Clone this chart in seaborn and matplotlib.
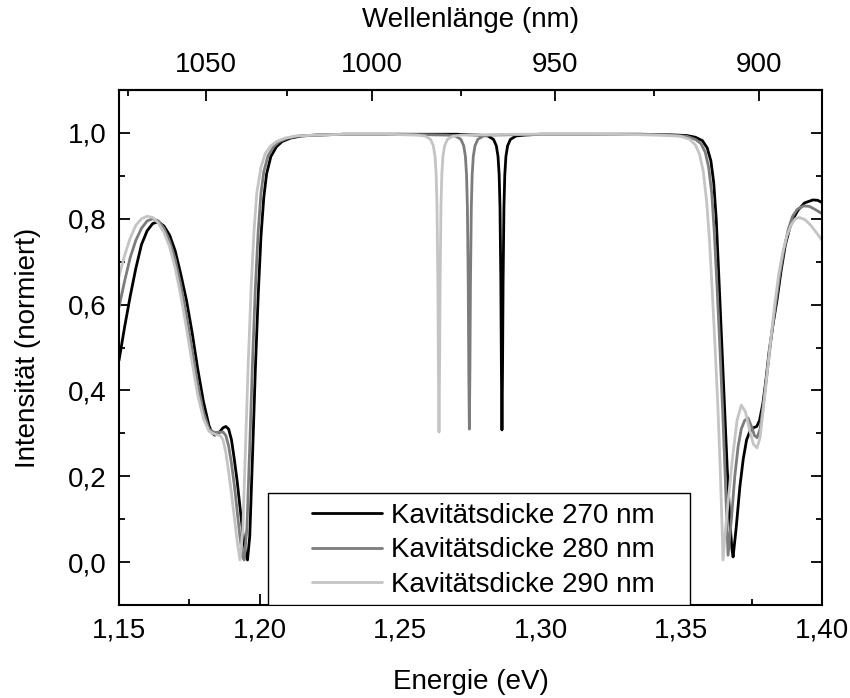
import numpy as np
import pandas as pd
import matplotlib
matplotlib.use("Agg")
import matplotlib.pyplot as plt
import seaborn as sns
from matplotlib.ticker import MultipleLocator, FixedLocator, FuncFormatter
from matplotlib.patches import Rectangle

# ---------------- data ----------------
series_labels = ["Kavitätsdicke 270 nm", "Kavitätsdicke 280 nm", "Kavitätsdicke 290 nm"]
series_colors = ["#000000", "#7c7c7c", "#c4c4c4"]

# 270 nm
e_270_left = [1.150, 1.152, 1.154, 1.156, 1.158, 1.160, 1.162, 1.164, 1.166, 1.168, 1.170, 1.172,
              1.174, 1.176, 1.178, 1.180, 1.182, 1.183, 1.184, 1.185, 1.186, 1.187, 1.188, 1.189,
              1.190, 1.191, 1.192, 1.193, 1.194, 1.195, 1.1957, 1.1965, 1.1975, 1.1985, 1.1995,
              1.2005, 1.2015, 1.2025, 1.204, 1.206, 1.208, 1.211, 1.215, 1.220, 1.230, 1.250, 1.270]
r_270_left = [0.470, 0.548, 0.620, 0.685, 0.740, 0.772, 0.789, 0.793, 0.783, 0.762, 0.725, 0.670,
              0.610, 0.535, 0.450, 0.375, 0.318, 0.302, 0.296, 0.298, 0.305, 0.313, 0.316, 0.310,
              0.285, 0.240, 0.190, 0.130, 0.070, 0.020, 0.005, 0.060, 0.250, 0.450, 0.620,
              0.760, 0.850, 0.905, 0.945, 0.968, 0.980, 0.988, 0.993, 0.995, 0.997, 0.997, 0.997]
e_270_dip = [1.2782, 1.2812, 1.2832, 1.2842, 1.2848, 1.2852, 1.2855, 1.2858, 1.2860, 1.2862,
             1.2864, 1.2866, 1.2869, 1.2872, 1.2876, 1.2882, 1.2892, 1.2912, 1.2942]
r_270_dip = [0.995, 0.993, 0.985, 0.970, 0.945, 0.902, 0.827, 0.652, 0.445, 0.308,
             0.445, 0.652, 0.827, 0.902, 0.945, 0.970, 0.985, 0.993, 0.995]
e_270_right = [1.300, 1.320, 1.335, 1.345, 1.352, 1.355, 1.3575, 1.3592, 1.3605, 1.3615, 1.3624,
               1.3633, 1.3643, 1.3653, 1.3663, 1.3673, 1.3680, 1.3684, 1.3695, 1.3708, 1.3720,
               1.3732, 1.3744, 1.3756, 1.3768, 1.3778, 1.3790, 1.3800, 1.3812, 1.3825, 1.3840,
               1.3855, 1.3870, 1.3886, 1.3900, 1.3915, 1.3938, 1.3968, 1.3985, 1.4000]
r_270_right = [0.997, 0.997, 0.997, 0.996, 0.994, 0.990, 0.982, 0.965, 0.935, 0.885, 0.800,
               0.670, 0.520, 0.370, 0.220, 0.090, 0.030, 0.012, 0.080, 0.175, 0.240,
               0.285, 0.305, 0.313, 0.316, 0.330, 0.370, 0.420, 0.490, 0.550, 0.610,
               0.680, 0.740, 0.780, 0.803, 0.820, 0.837, 0.844, 0.843, 0.838]

# 280 nm
e_280_left = [1.150, 1.152, 1.154, 1.156, 1.158, 1.160, 1.162, 1.164, 1.166, 1.168, 1.170, 1.172,
              1.174, 1.176, 1.178, 1.180, 1.182, 1.184, 1.186, 1.187, 1.188, 1.189, 1.190, 1.191,
              1.192, 1.193, 1.194, 1.1945, 1.1955, 1.1965, 1.1975, 1.1985, 1.1995, 1.2005, 1.2015,
              1.203, 1.205, 1.207, 1.210, 1.214, 1.220, 1.230, 1.250]
r_280_left = [0.594, 0.655, 0.710, 0.750, 0.778, 0.795, 0.800, 0.795, 0.778, 0.748, 0.705, 0.645,
              0.575, 0.495, 0.415, 0.350, 0.310, 0.302, 0.303, 0.303, 0.295, 0.270, 0.230, 0.180,
              0.120, 0.060, 0.012, 0.005, 0.080, 0.270, 0.470, 0.640, 0.770, 0.860, 0.910,
              0.947, 0.968, 0.980, 0.988, 0.993, 0.995, 0.997, 0.997]
e_280_dip = [1.2666, 1.2696, 1.2716, 1.2726, 1.2732, 1.2736, 1.2739, 1.2742, 1.2744, 1.2746,
             1.2748, 1.2750, 1.2753, 1.2756, 1.2760, 1.2766, 1.2776, 1.2796, 1.2826]
r_280_dip = [0.995, 0.993, 0.985, 0.970, 0.945, 0.902, 0.827, 0.652, 0.445, 0.310,
             0.445, 0.652, 0.827, 0.902, 0.945, 0.970, 0.985, 0.993, 0.995]
e_280_right = [1.300, 1.320, 1.335, 1.345, 1.352, 1.355, 1.357, 1.3585, 1.3597, 1.3608, 1.3617,
               1.3627, 1.3637, 1.3647, 1.3656, 1.3662, 1.3666, 1.3678, 1.3690, 1.3702, 1.3713,
               1.3725, 1.3737, 1.3750, 1.3760, 1.3769, 1.3780, 1.3792, 1.3805, 1.3820, 1.3835,
               1.3850, 1.3865, 1.3880, 1.3895, 1.3912, 1.3935, 1.3955, 1.3975, 1.4000]
r_280_right = [0.997, 0.997, 0.997, 0.996, 0.992, 0.985, 0.975, 0.955, 0.920, 0.860, 0.770,
               0.640, 0.500, 0.350, 0.200, 0.090, 0.016, 0.100, 0.200, 0.270, 0.310,
               0.330, 0.336, 0.315, 0.295, 0.290, 0.310, 0.370, 0.440, 0.525, 0.600,
               0.670, 0.730, 0.775, 0.805, 0.822, 0.830, 0.829, 0.822, 0.812]

# 290 nm
e_290_left = [1.150, 1.152, 1.154, 1.156, 1.158, 1.160, 1.162, 1.164, 1.166, 1.168, 1.170, 1.172,
              1.174, 1.176, 1.178, 1.180, 1.182, 1.184, 1.186, 1.187, 1.188, 1.189, 1.190, 1.191,
              1.192, 1.193, 1.194, 1.195, 1.196, 1.197, 1.198, 1.199, 1.2005, 1.202, 1.204,
              1.206, 1.209, 1.213, 1.220, 1.230, 1.245]
r_290_left = [0.665, 0.715, 0.755, 0.785, 0.800, 0.806, 0.803, 0.790, 0.768, 0.735, 0.685, 0.620,
              0.545, 0.465, 0.390, 0.335, 0.305, 0.298, 0.295, 0.285, 0.255, 0.210, 0.160, 0.105,
              0.050, 0.005, 0.070, 0.270, 0.470, 0.640, 0.770, 0.860, 0.920, 0.952, 0.970,
              0.980, 0.988, 0.993, 0.995, 0.997, 0.997]
e_290_dip = [1.2558, 1.2588, 1.2608, 1.2618, 1.2624, 1.2628, 1.2631, 1.2634, 1.2636, 1.2638,
             1.2640, 1.2642, 1.2645, 1.2648, 1.2652, 1.2658, 1.2668, 1.2688, 1.2718]
r_290_dip = [0.995, 0.993, 0.985, 0.970, 0.945, 0.902, 0.827, 0.652, 0.445, 0.303,
             0.445, 0.652, 0.827, 0.902, 0.945, 0.970, 0.985, 0.993, 0.995]
e_290_right = [1.290, 1.320, 1.335, 1.345, 1.350, 1.353, 1.355, 1.3565, 1.3578, 1.3590, 1.3600,
               1.3610, 1.3620, 1.3630, 1.3638, 1.3644, 1.3648, 1.3656, 1.3666, 1.3675, 1.3684,
               1.3698, 1.3713, 1.3728, 1.3742, 1.3756, 1.3769, 1.3780, 1.3792, 1.3805, 1.3818,
               1.3832, 1.3846, 1.3860, 1.3875, 1.3890, 1.3905, 1.3920, 1.3940, 1.3960, 1.3980, 1.4000]
r_290_right = [0.997, 0.997, 0.996, 0.994, 0.992, 0.985, 0.972, 0.950, 0.910, 0.840, 0.750,
               0.630, 0.500, 0.360, 0.220, 0.100, 0.005, 0.070, 0.137, 0.200, 0.254,
               0.330, 0.366, 0.350, 0.310, 0.275, 0.266, 0.290, 0.360, 0.440, 0.520,
               0.600, 0.670, 0.720, 0.760, 0.785, 0.800, 0.803, 0.798, 0.785, 0.768, 0.750]

x_ticks = [1.15, 1.20, 1.25, 1.30, 1.35, 1.40]
y_ticks = [0.0, 0.2, 0.4, 0.6, 0.8, 1.0]
wl_ticks = [1050, 1000, 950, 900]
wl_minor = [1075, 1025, 975, 925]

# ---------------- build table ----------------
frames = []
for lab, es, rs in [
    (series_labels[0], [e_270_left, e_270_dip, e_270_right], [r_270_left, r_270_dip, r_270_right]),
    (series_labels[1], [e_280_left, e_280_dip, e_280_right], [r_280_left, r_280_dip, r_280_right]),
    (series_labels[2], [e_290_left, e_290_dip, e_290_right], [r_290_left, r_290_dip, r_290_right]),
]:
    e = sum(es, [])
    r = sum(rs, [])
    frames.append(pd.DataFrame({"Energie": e, "Intensitaet": r, "Serie": lab}))
df = pd.concat(frames, ignore_index=True)

# ---------------- plot ----------------
sns.set_theme(style="white")
plt.rcParams["font.family"] = ["Liberation Sans", "DejaVu Sans"]

fig = plt.figure(figsize=(8.5, 6.98), dpi=100)
ax = fig.add_axes([0.14, 0.1332, 0.827, 0.7378])

sns.lineplot(data=df, x="Energie", y="Intensitaet", hue="Serie", hue_order=series_labels,
             palette=dict(zip(series_labels, series_colors)), linewidth=2.0,
             estimator=None, sort=False, legend=False, ax=ax)

ax.set_xlim(1.15, 1.40)
ax.set_ylim(-0.1, 1.1)
ax.set_xticks(x_ticks)
ax.set_yticks(y_ticks)
ax.xaxis.set_minor_locator(MultipleLocator(0.025))
ax.yaxis.set_minor_locator(MultipleLocator(0.1))
ax.xaxis.set_major_formatter(FuncFormatter(lambda v, p: f"{v:.2f}".replace(".", ",")))
ax.yaxis.set_major_formatter(FuncFormatter(lambda v, p: f"{v:.1f}".replace(".", ",")))

for s in ax.spines.values():
    s.set_color("black")
    s.set_linewidth(1.5)

ax.tick_params(which="both", direction="in", colors="black", width=1.3,
               bottom=True, left=True, right=True, top=False, labelsize=20, pad=9)
ax.tick_params(which="major", length=8)
ax.tick_params(which="minor", length=4.5)

ax.set_xlabel("Energie (eV)", fontsize=20, labelpad=18, color="black")
ax.set_ylabel("Intensität (normiert)", fontsize=20, labelpad=19, color="black")


def e2l(x):
    x = np.asarray(x, dtype=float)
    with np.errstate(divide="ignore", invalid="ignore"):
        return 1239.84 / x


sec = ax.secondary_xaxis("top", functions=(e2l, e2l))
sec.set_xticks(wl_ticks)
sec.set_xticklabels([str(t) for t in wl_ticks])
sec.xaxis.set_minor_locator(FixedLocator(wl_minor))
sec.tick_params(which="both", direction="in", colors="black", width=1.3, labelsize=20, pad=9)
sec.tick_params(which="major", length=8)
sec.tick_params(which="minor", length=4.5)
sec.spines["top"].set_linewidth(1.5)
sec.spines["top"].set_color("black")
sec.set_xlabel("Wellenlänge (nm)", fontsize=20, labelpad=18, color="black")

# legend with a boxed frame
frame = Rectangle((0.212, 0.0), 0.600, 0.2175, transform=ax.transAxes,
                  facecolor="white", edgecolor="black", linewidth=1.0, zorder=4)
ax.add_patch(frame)
leg = ax.legend(ax.lines[:3], series_labels, loc="center left",
                bbox_to_anchor=(0.275, 0.106), frameon=False, fontsize=20,
                handlelength=2.5, handletextpad=0.35, labelspacing=0.3,
                borderpad=0.0, borderaxespad=0.0)
leg.set_zorder(5)
for t in leg.get_texts():
    t.set_color("black")

fig.savefig("out.png", dpi=100)
